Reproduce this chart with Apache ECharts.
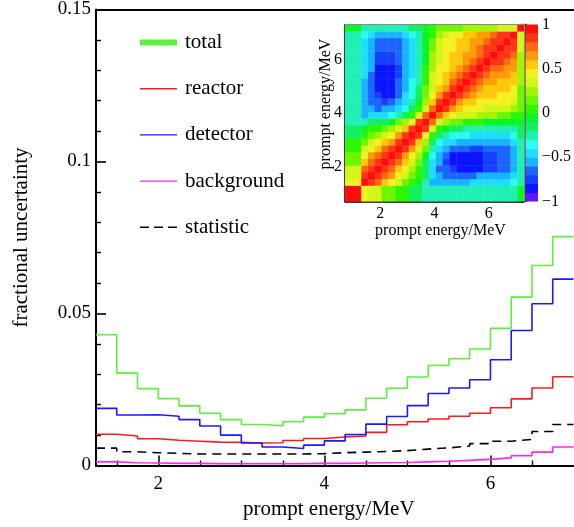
<!DOCTYPE html>
<html><head><meta charset="utf-8">
<script src="https://cdn.jsdelivr.net/npm/echarts@6/dist/echarts.min.js"></script>
<style>html,body{margin:0;padding:0;background:#fff}#c{width:574px;height:527px}</style>
</head><body><div id="c"></div>
<script>
// ---------- main plot data ----------
const binEdges = [1.25,1.5,1.75,2,2.25,2.5,2.75,3,3.25,3.5,3.75,4,4.25,4.5,4.75,5,5.25,5.5,5.75,6,6.25,6.5,6.75,7];
const total    = [0.0430,0.0304,0.0253,0.0220,0.0196,0.0172,0.0151,0.0135,0.0131,0.0144,0.0159,0.0170,0.0183,0.0221,0.0254,0.0291,0.0329,0.0351,0.0383,0.0451,0.0554,0.0658,0.0753];
const reactor  = [0.0103,0.0097,0.0088,0.0083,0.0080,0.0077,0.0076,0.0074,0.0075,0.0082,0.0089,0.0094,0.0097,0.0109,0.0134,0.0144,0.0153,0.0162,0.0172,0.0190,0.0219,0.0255,0.0292];
const detector = [0.0188,0.0166,0.0167,0.0162,0.0151,0.0130,0.0100,0.0074,0.0061,0.0056,0.0067,0.0081,0.0102,0.0136,0.0161,0.0197,0.0237,0.0255,0.0282,0.0348,0.0444,0.0532,0.0613];
const background = [0.0012,0.0009,0.0008,0.0007,0.0007,0.0006,0.0006,0.0006,0.0006,0.0006,0.0007,0.0007,0.0008,0.0009,0.0010,0.0012,0.0014,0.0017,0.0020,0.0025,0.0032,0.0044,0.0061];
const statistic  = [0.0057,0.0045,0.0042,0.0040,0.0038,0.0038,0.0038,0.0038,0.0038,0.0038,0.0039,0.0042,0.0044,0.0046,0.0049,0.0054,0.0058,0.0064,0.0072,0.0080,0.0086,0.0112,0.0135];
const seriesNames = ['total','reactor','detector','background','statistic'];
const xMajorTicks = [2,4,6];
const xMinorTicks = [1.5,2.5,3,3.5,4.5,5,5.5,6.5];

// ---------- inset correlation matrix ----------
const insetEdges = [0.7,1.3,1.55,1.8,2.05,2.3,2.55,2.8,3.05,3.3,3.55,3.8,4.05,4.3,4.55,4.8,5.05,5.3,5.55,5.8,6.05,6.3,6.55,6.8,7.05,7.3];
// upper triangle: row j gives correlations with bins j..24
const corrUpper = [
 [1.00,0.45,0.38,0.30,0.18,0.10,0.04,0.00,-0.12,-0.18,-0.22,-0.24,-0.25,-0.25,-0.26,-0.26,-0.26,-0.26,-0.25,-0.25,-0.25,-0.24,-0.23,-0.22,-0.05],
 [1.00,0.85,0.70,0.55,0.42,0.30,0.18,0.05,-0.10,-0.30,-0.52,-0.55,-0.56,-0.56,-0.55,-0.55,-0.48,-0.46,-0.45,-0.44,-0.43,-0.42,-0.38,-0.25],
 [1.00,0.85,0.72,0.60,0.45,0.32,0.18,0.02,-0.20,-0.45,-0.56,-0.62,-0.66,-0.68,-0.68,-0.66,-0.58,-0.56,-0.55,-0.55,-0.52,-0.42,-0.25],
 [1.00,0.85,0.72,0.58,0.42,0.25,0.05,-0.20,-0.48,-0.62,-0.70,-0.76,-0.81,-0.82,-0.82,-0.81,-0.76,-0.72,-0.68,-0.66,-0.55,-0.30],
 [1.00,0.85,0.70,0.52,0.32,0.12,-0.12,-0.42,-0.60,-0.72,-0.82,-0.85,-0.86,-0.85,-0.82,-0.76,-0.72,-0.68,-0.62,-0.55,-0.30],
 [1.00,0.85,0.68,0.45,0.22,-0.05,-0.35,-0.55,-0.70,-0.82,-0.85,-0.86,-0.85,-0.83,-0.76,-0.72,-0.68,-0.65,-0.55,-0.30],
 [1.00,0.85,0.62,0.38,0.10,-0.25,-0.45,-0.55,-0.65,-0.68,-0.70,-0.72,-0.72,-0.70,-0.68,-0.66,-0.62,-0.55,-0.28],
 [1.00,0.85,0.55,0.20,-0.20,-0.35,-0.42,-0.50,-0.55,-0.58,-0.60,-0.60,-0.60,-0.58,-0.57,-0.55,-0.48,-0.25],
 [1.00,0.80,0.45,0.00,-0.15,-0.28,-0.35,-0.38,-0.40,-0.42,-0.44,-0.45,-0.45,-0.44,-0.42,-0.38,-0.20],
 [1.00,0.80,0.30,0.05,-0.05,-0.12,-0.18,-0.22,-0.25,-0.26,-0.27,-0.27,-0.26,-0.25,-0.22,-0.15],
 [1.00,0.75,0.35,0.28,0.15,0.10,0.06,0.03,0.00,-0.02,-0.03,-0.04,-0.04,-0.03,-0.02],
 [1.00,0.75,0.50,0.44,0.36,0.33,0.30,0.27,0.24,0.20,0.16,0.12,0.08,0.05],
 [1.00,0.82,0.62,0.52,0.46,0.42,0.40,0.38,0.36,0.33,0.30,0.26,0.10],
 [1.00,0.85,0.68,0.58,0.52,0.48,0.46,0.45,0.44,0.42,0.38,0.15],
 [1.00,0.85,0.72,0.62,0.56,0.52,0.50,0.48,0.47,0.45,0.15],
 [1.00,0.85,0.74,0.64,0.58,0.55,0.52,0.50,0.47,0.18],
 [1.00,0.86,0.75,0.66,0.60,0.58,0.55,0.52,0.20],
 [1.00,0.86,0.76,0.68,0.65,0.62,0.58,0.22],
 [1.00,0.86,0.78,0.72,0.68,0.64,0.25],
 [1.00,0.86,0.80,0.74,0.68,0.25],
 [1.00,0.86,0.80,0.75,0.28],
 [1.00,0.88,0.82,0.30],
 [1.00,0.88,0.32],
 [1.00,0.35],
 [1.00]
];
const insetMajorTicks = [2,4,6];
const insetMinorTicks = [1,1.5,2.5,3,3.5,4.5,5,5.5,6.5,7];
// colour palette levels (-1 .. 1, 20 bands)
const paletteLevels = [-1,-0.9,-0.8,-0.7,-0.6,-0.5,-0.4,-0.3,-0.2,-0.1,0,0.1,0.2,0.3,0.4,0.5,0.6,0.7,0.8,0.9,1];
const paletteColors = ['#6414ff','#0a14ff','#1440ff','#1e64ff','#18b4ff','#20dcff','#28fff0','#20f0b4','#10f060','#0af528',
                       '#2ef500','#6ef500','#a6f500','#d2f51a','#f5f020','#ffc80a','#ff9a08','#ff6a0a','#ff3318','#ff0d0d'];

// ---------- build ----------
const lineColors = {total:'#5cf03c', reactor:'#ff1a1a', detector:'#1a1aff', background:'#ff22ff', statistic:'#000000'};
const seriesData = {total, reactor, detector, background, statistic};
function stepPoints(vals){ return binEdges.map((e,i)=>[e, vals[Math.min(i, vals.length-1)]]); }
function corr(i,j){ return i>=j ? corrUpper[j][i-j] : corrUpper[i][j-i]; }
const heatData = [];
for (let i=0;i<insetEdges.length-1;i++) for (let j=0;j<insetEdges.length-1;j++) heatData.push([i,j,corr(i,j)]);
function colorFor(v){
  for (let k=0;k<paletteColors.length;k++){ if (v < paletteLevels[k+1]) return paletteColors[k]; }
  return paletteColors[paletteColors.length-1];
}
const FONT = 'Liberation Serif';
const lineSeries = seriesNames.map(n => ({
  name:n, type:'line', step:'end', symbol:'none', xAxisIndex:0, yAxisIndex:0,
  data: stepPoints(seriesData[n]), color: lineColors[n],
  lineStyle:{color:lineColors[n], width:1.6, type: n==='statistic' ? [9,6] : 'solid'},
  itemStyle:{color:lineColors[n]}, z:3
}));
const legendIcons = {
  total:'path://M0,0h37v6h-37z',
  reactor:'path://M0,0h37v1.4h-37z',
  detector:'path://M0,0h37v1.4h-37z',
  background:'path://M0,0h37v1.4h-37z',
  statistic:'path://M0,0h9v1.6h-9zM14,0h9v1.6h-9zM28,0h9v1.6h-9z'
};
const axText = (size)=>({color:'#000', fontFamily:FONT, fontSize:size});

const option = {
  animation:false,
  backgroundColor:'#fff',
  legend:{
    orient:'vertical', left:140, top:32, padding:0, itemWidth:37, itemHeight:20, itemGap:25.2,
    data: seriesNames.map(n=>({name:n, icon:legendIcons[n], itemStyle:{color:lineColors[n]}})),
    textStyle:{color:'#000', fontFamily:FONT, fontSize:21, lineHeight:20, padding:[0,0,0,3]},
    selectedMode:false
  },
  grid:[
    {left:96, top:6, width:477.5, height:459.5},
    {left:345, top:24.5, width:179, height:177},
    {left:525.5, top:24.5, width:15.5, height:177}
  ],
  xAxis:[
    {gridIndex:0, type:'value', min:1.25, max:7, position:'bottom',
     axisLine:{lineStyle:{color:'#000', width:2}},
     axisTick:{inside:true, length:10, customValues:xMajorTicks, lineStyle:{color:'#000', width:1.5}},
     axisLabel:{customValues:xMajorTicks, margin:9, ...axText(19)},
     splitLine:{show:false},
     name:'prompt energy/MeV', nameLocation:'middle', nameGap:33, nameTextStyle:{...axText(21), padding:[0,12,0,0]}},
    {gridIndex:0, type:'value', min:1.25, max:7, position:'bottom',
     axisLine:{show:false}, axisLabel:{show:false}, splitLine:{show:false},
     axisTick:{inside:true, length:5, customValues:xMinorTicks, lineStyle:{color:'#000', width:1.4}}},
    {gridIndex:0, type:'value', min:1.25, max:7, position:'top',
     axisLine:{lineStyle:{color:'#000', width:2}}, axisTick:{show:false}, axisLabel:{show:false}, splitLine:{show:false}},
    // inset
    {gridIndex:1, type:'value', min:0.7, max:7.3, position:'bottom',
     axisLine:{lineStyle:{color:'#000', width:1.5}},
     axisTick:{inside:true, length:5, customValues:insetMajorTicks, lineStyle:{color:'#000', width:1.3}},
     axisLabel:{customValues:insetMajorTicks, margin:4, ...axText(16)},
     splitLine:{show:false},
     name:'prompt energy/MeV', nameLocation:'middle', nameGap:20, nameTextStyle:{...axText(16), padding:[0,0,0,12]}},
    {gridIndex:1, type:'value', min:0.7, max:7.3, position:'bottom',
     axisLine:{show:false}, axisLabel:{show:false}, splitLine:{show:false},
     axisTick:{inside:true, length:3, customValues:insetMinorTicks, lineStyle:{color:'#000', width:1.1}}},
    {gridIndex:1, type:'value', min:0.7, max:7.3, position:'top',
     axisLine:{lineStyle:{color:'#8a8a8a', width:1}}, axisTick:{show:false}, axisLabel:{show:false}, splitLine:{show:false}, z:5},
    // colour bar
    {gridIndex:2, type:'value', min:0, max:1, show:false}
  ],
  yAxis:[
    {gridIndex:0, type:'value', min:0, max:0.15, interval:0.05, position:'left',
     axisLine:{show:true, lineStyle:{color:'#000', width:2}},
     axisTick:{show:true, inside:true, length:10, lineStyle:{color:'#000', width:1.6}},
     minorTick:{show:true, splitNumber:5, length:5, lineStyle:{color:'#000', width:1.4}},
     axisLabel:{margin:5, ...axText(19)},
     splitLine:{show:false}, minorSplitLine:{show:false},
     name:'fractional uncertainty', nameLocation:'middle', nameGap:64, nameTextStyle:axText(21)},
    // inset
    {gridIndex:1, type:'value', min:0.7, max:7.3, position:'left',
     axisLine:{show:true, lineStyle:{color:'#000', width:1.5}},
     axisTick:{show:true, inside:true, length:6, customValues:insetMajorTicks, lineStyle:{color:'#000', width:1.3}},
     axisLabel:{customValues:insetMajorTicks, margin:3, ...axText(16)},
     splitLine:{show:false},
     name:'prompt energy/MeV', nameLocation:'middle', nameGap:11, nameMoveOverlap:false,
     nameTextStyle:{...axText(16), padding:[0,0,0,18]}},
    {gridIndex:1, type:'value', min:0.7, max:7.3, position:'left',
     axisLine:{show:false}, axisLabel:{show:false}, splitLine:{show:false},
     axisTick:{show:true, inside:true, length:3.5, customValues:insetMinorTicks, lineStyle:{color:'#000', width:1.1}}},
    {gridIndex:1, type:'value', min:0.7, max:7.3, position:'right',
     axisLine:{show:true, lineStyle:{color:'#8a8a8a', width:1}}, axisTick:{show:false}, axisLabel:{show:false}, splitLine:{show:false}, z:5},
    // colour bar axis
    {gridIndex:2, type:'value', min:-1, max:1, interval:0.5, position:'right',
     axisLine:{show:true, lineStyle:{color:'#000', width:1.5}},
     axisTick:{show:true, inside:true, length:5, lineStyle:{color:'#000', width:1.3}},
     axisLabel:{margin:4, ...axText(16), formatter:(v)=>String(v).replace('-', '\u2212')},
     splitLine:{show:false}}
  ],
  series:[
    ...lineSeries,
    {type:'custom', xAxisIndex:3, yAxisIndex:1, data:heatData, z:2, silent:true,
     renderItem:function(params, api){
       const i=api.value(0), j=api.value(1), v=api.value(2);
       const p0=api.coord([insetEdges[i], insetEdges[j+1]]);
       const p1=api.coord([insetEdges[i+1], insetEdges[j]]);
       const ox = i < insetEdges.length-2 ? 0.4 : 0;
       const oy = j > 0 ? 0.4 : 0;
       return {type:'rect', shape:{x:p0[0], y:p0[1], width:p1[0]-p0[0]+ox, height:p1[1]-p0[1]+oy},
               style:{fill:colorFor(v), stroke:null}};
     }},
    {type:'custom', xAxisIndex:6, yAxisIndex:4, data:paletteColors.map((c,k)=>[k]), z:2, silent:true,
     renderItem:function(params, api){
       const k=api.value(0);
       const p0=api.coord([0, paletteLevels[k+1]]);
       const p1=api.coord([1, paletteLevels[k]]);
       return {type:'rect', shape:{x:p0[0], y:p0[1], width:p1[0]-p0[0], height:p1[1]-p0[1]+(k>0?0.4:0)},
               style:{fill:paletteColors[k], stroke:null}};
     }}
  ]
};
const chart = echarts.init(document.getElementById('c'), null, {renderer:'canvas'});
chart.setOption(option);
</script>
</body></html>
